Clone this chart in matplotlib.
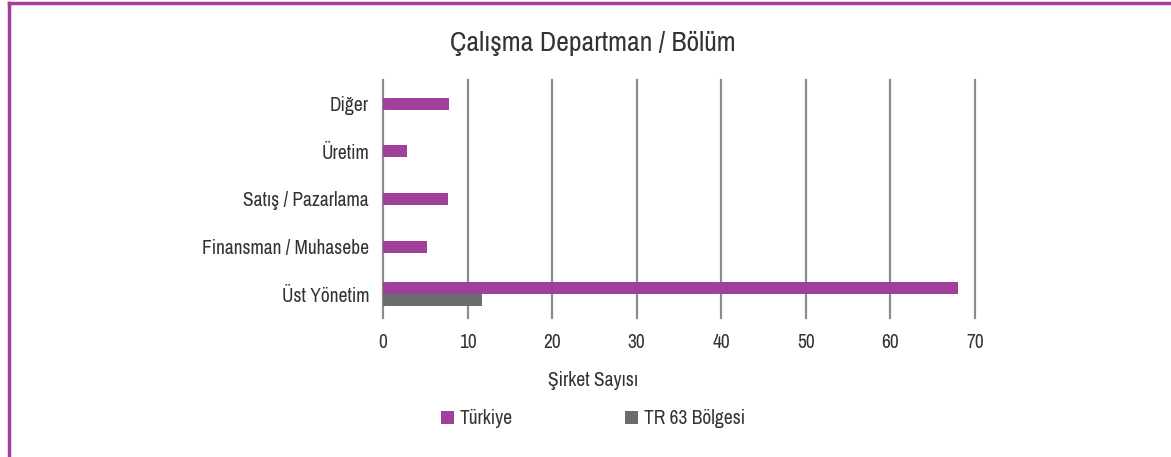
import matplotlib
matplotlib.use("Agg")
import matplotlib.pyplot as plt
from matplotlib import font_manager
from matplotlib.patches import Patch
from matplotlib.lines import Line2D
import numpy as np

# pick a narrow font if one is installed
names = sorted({f.name for f in font_manager.fontManager.ttflist})
narrow = [n for n in names if "Narrow" in n or "Condensed" in n]
plt.rcParams["font.family"] = narrow[:1] + ["Roboto", "DejaVu Sans"]

# data (bottom to top)
categories = ["Üst Yönetim", "Finansman / Muhasebe", "Satış / Pazarlama", "Üretim", "Diğer"]
turkiye = [68, 5.2, 7.7, 2.8, 7.8]
tr63 = [11.7, 0, 0, 0, 0]
series_names = ["Türkiye", "TR 63 Bölgesi"]
x_ticks = [0, 10, 20, 30, 40, 50, 60, 70]

PURPLE = "#A0409A"
GRAY = "#6B6B70"
TEXT = "#333333"
GRID = "#8C8C8C"

fig = plt.figure(figsize=(11.71, 4.57), dpi=100)
ax = fig.add_axes([383 / 1171, 1 - 318 / 457, (975 - 383) / 1171, (318 - 80) / 457])

y = np.arange(len(categories))
h = 0.25
# only the category with a TR 63 value is drawn as a pair
pair = np.array([v > 0 for v in tr63])
ax.barh(y + np.where(pair, h / 2, 0), turkiye, height=h, color=PURPLE, zorder=2)
ax.barh(y[pair] - h / 2, np.array(tr63)[pair], height=h, color=GRAY, zorder=2)

ax.set_xlim(0, 70)
ax.set_ylim(-0.5, 4.5)
ax.set_xticks(x_ticks)
ax.set_xticklabels([str(t) for t in x_ticks], fontsize=14, color=TEXT)
ax.set_yticks(y)
ax.set_yticklabels(categories, fontsize=14, color=TEXT)
ax.tick_params(axis="x", length=0, pad=11)
ax.tick_params(axis="y", length=0, pad=10)
ax.grid(axis="x", color=GRID, linewidth=1.6, zorder=3)
for gl in ax.get_xgridlines():
    gl.set_clip_on(False)
for s in ax.spines.values():
    s.set_visible(False)

cx = 593 / 1171
fig.text(cx, 1 - 43 / 457, "Çalışma Departman / Bölüm", ha="center", va="center",
         fontsize=20, color=TEXT)
fig.text(cx, 1 - 381 / 457, "Şirket Sayısı", ha="center", va="center", fontsize=14, color=TEXT)

handles = [Patch(facecolor=PURPLE, edgecolor="none"), Patch(facecolor=GRAY, edgecolor="none")]
leg = fig.legend(handles, series_names, loc="center", bbox_to_anchor=(cx, 1 - 419 / 457),
                 ncol=2, frameon=False, fontsize=14, handlelength=0.65, handleheight=0.65,
                 columnspacing=5.8, handletextpad=0.3)
for t in leg.get_texts():
    t.set_color(TEXT)

# chart border (top and left only visible)
fig.add_artist(Line2D([9 / 1171, 1], [1 - 3 / 457, 1 - 3 / 457], color=PURPLE, linewidth=2.5))
fig.add_artist(Line2D([9 / 1171, 9 / 1171], [0, 1 - 3 / 457], color=PURPLE, linewidth=2.5))

fig.savefig("out.png", dpi=100)
